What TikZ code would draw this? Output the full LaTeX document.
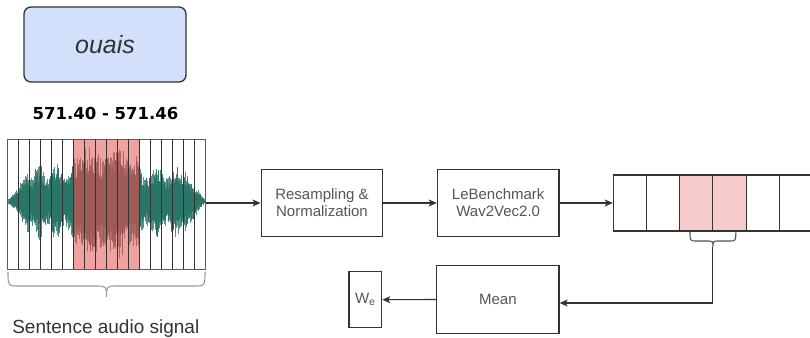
\documentclass[tikz,border=0pt]{standalone}
\usepackage{fontspec}
\setmainfont{Liberation Sans}
\newfontfamily\djb{DejaVu Sans}
\usetikzlibrary{arrows.meta}
\definecolor{boxline}{HTML}{333333}
\definecolor{txtgray}{HTML}{555555}
\definecolor{ouaisfill}{HTML}{D2E0FB}
\definecolor{wave}{HTML}{1D6B5E}
\definecolor{wavered}{HTML}{985653}
\definecolor{stripred}{HTML}{EFA2A0}
\definecolor{cellred}{HTML}{F6CBCA}
\definecolor{bracegray}{HTML}{999999}
\begin{document}
\begin{tikzpicture}[x=1pt,y=-1pt,
  procbox/.style={draw=boxline,line width=1.2pt,inner sep=0pt,align=center,
    text=txtgray,font=\fontsize{15}{17}\selectfont},
  cellbox/.style={draw=boxline,line width=1.1pt,minimum width=33.2pt,minimum height=56pt,inner sep=0pt},
  arr/.style={draw=boxline,line width=1.1pt,-{Stealth[length=8pt,width=7pt,inset=2pt]}},
  gridline/.style={draw=boxline,line width=0.9pt},
  bracestyle/.style={draw=bracegray,line width=1.1pt}]
\useasboundingbox (0,0) rectangle (810,337);

% ouais box
\node[draw=boxline,line width=1.3pt,fill=ouaisfill,rounded corners=7pt,
  minimum width=162pt,minimum height=75pt,inner sep=0pt,text=boxline,
  font=\itshape\fontsize{25}{28}\selectfont] (ouais) at (105,44.5) {ouais};
\node[anchor=base,text=black,font=\djb\bfseries\fontsize{16.5}{20}\selectfont] (time) at (105.5,119.3) {571.40 - 571.46};

% audio strip
\fill[stripred] (73.7,139) rectangle (139.3,269.3);
\pgfmathsetseed{11}
\foreach \i in {0,...,394} {
  \pgfmathsetmacro\x{8.5+0.5*\i}
  \pgfmathsetmacro\env{\x<15 ? 2+(\x-8) : (\x<30 ? 9+(\x-15)*1.8 : (\x<73.7 ? 31+7*sin(\x*21) : (\x<139.3 ? 49+6*sin(\x*13) : (\x<185 ? 30+6*sin(\x*19) : max(2,30-(\x-185)*1.45)))))}
  \pgfmathsetmacro\a{\env*(0.5+0.5*rnd)}
  \pgfmathsetmacro\b{\env*(0.5+0.55*rnd)}
  \ifdim\x pt<73.7pt \def\wc{wave}\else\ifdim\x pt<139.3pt \def\wc{wavered}\else\def\wc{wave}\fi\fi
  \draw[\wc,line width=1pt,opacity=0.75] (\x,201-\a) -- (\x,201+\b);
}
\node[draw=boxline!80,line width=1pt,minimum width=198.4pt,minimum height=130.3pt,inner sep=0pt] (strip) at (106.5,204.15) {};
\foreach \k in {1,...,17} {
  \draw[gridline] (7.3+\k*11.022,139) -- (7.3+\k*11.022,269.3);
}
% big brace
\draw[bracestyle] (8,271.5) .. controls (8,286) .. (20,286) -- (95,286)
  .. controls (106.5,286) .. (106.5,297) .. controls (106.5,286) .. (118,286)
  -- (193,286) .. controls (205,286) .. (205,271.5);
\node[anchor=base,text=boxline,font=\fontsize{19}{22}\selectfont] (sent) at (105.8,333.3) {Sentence audio signal};

% processing boxes
\node[procbox,minimum width=121.7pt,minimum height=67.7pt] (resamp) at (322,203) {Resampling \&\\Normalization};
\node[procbox,minimum width=121.7pt,minimum height=67.7pt] (bench) at (498.2,203) {LeBenchmark\\Wav2Vec2.0};
\node[procbox,minimum width=122.3pt,minimum height=67.6pt] (mean) at (497.9,299.5) {Mean};
\node[procbox,minimum width=32.7pt,minimum height=56pt] (we) at (365.3,299.7) {W\textsubscript{e}};

% vector cells
\node[cellbox] (c1) at (629.9,203) {};
\node[cellbox] (c2) at (663.1,203) {};
\node[cellbox,fill=cellred] (c3) at (696.3,203) {};
\node[cellbox,fill=cellred] (c4) at (729.5,203) {};
\node[cellbox] (c5) at (762.7,203) {};
\node[cellbox] (c6) at (795.9,203) {};
\node[cellbox] (c7) at (829.1,203) {};

% small brace
\draw[bracestyle,draw=boxline!85] (690,231.5) .. controls (690,241) .. (697,241) -- (706,241)
  .. controls (712.9,241) .. (712.9,247) .. controls (712.9,241) .. (720,241)
  -- (729,241) .. controls (735.8,241) .. (735.8,231.5);
\coordinate (bt) at (712.9,247);
\coordinate (turn) at (712.9,303);

% connectors
\draw[arr] (strip.east |- resamp.west) -- (resamp.west);
\draw[arr] (resamp.east) -- (bench.west);
\draw[arr] (bench.east) -- (c1.west);
\draw[arr] (bt) -- (turn) -- (turn -| mean.east);
\draw[arr] (mean.west) -- (we.east);
\end{tikzpicture}
\end{document}
